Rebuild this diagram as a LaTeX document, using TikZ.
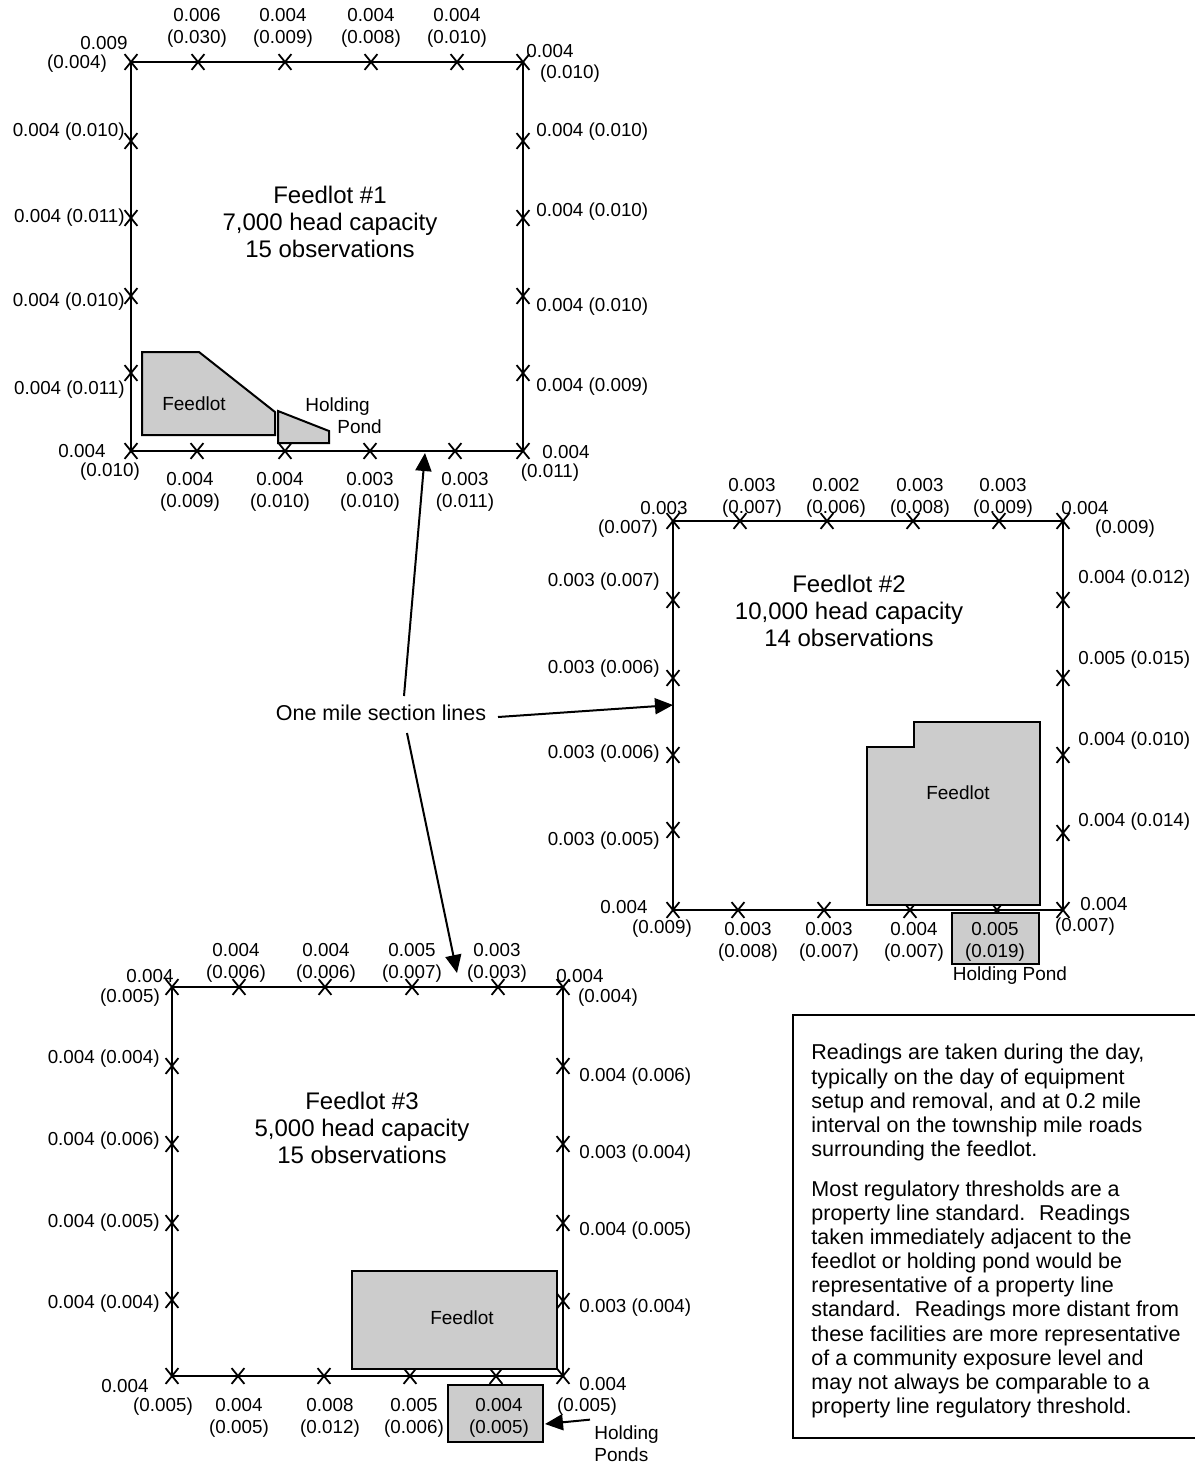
\documentclass[tikz,border=0pt]{standalone}
\usepackage{fontspec}
\setmainfont{Liberation Sans}
\usetikzlibrary{shapes.misc,arrows.meta,calc}
\definecolor{areagray}{RGB}{204,204,204}
\begin{document}
\begin{tikzpicture}[x=0.5pt,y=-0.5pt,
  lbl/.style={font=\fontsize{9.4}{11}\selectfont, inner sep=0pt, align=center, yshift=-1pt},
  mk/.style={cross out, draw, line width=0.9pt, minimum width=5.5pt, minimum height=7pt, inner sep=0pt},
  ttl/.style={font=\fontsize{12}{13.5}\selectfont, align=center, inner sep=0pt},
  small/.style={font=\fontsize{9.5}{11}\selectfont, inner sep=0pt, align=center},
  area/.style={draw, line width=1pt, fill=areagray},
  road/.style={line width=1.1pt},
  arr/.style={line width=1pt, -{Triangle[length=9pt,width=8pt]}},
  para/.style={font=\fontsize{10.75}{12.1}\selectfont, inner sep=0pt, align=left, anchor=north west}]
\useasboundingbox (0,0) rectangle (1195,1464);

% ================= Feedlot 1 =================
\foreach \x [count=\i] in {131,198,285,371,457,523} \node[mk] (f1t\i) at (\x,62) {};
\foreach \x [count=\i] in {131,197,285,370,455,523} \node[mk] (f1b\i) at (\x,451) {};
\foreach \y [count=\i] in {141,218,296,373} \node[mk] (f1l\i) at (131,\y) {};
\foreach \y [count=\i] in {141,218,296,373} \node[mk] (f1r\i) at (523,\y) {};
\draw[road] (f1t1.center) -- (f1t6.center) -- (f1b6.center) -- (f1b1.center) -- cycle;
\draw[area] (142,352) -- (199,352) -- (275,412) -- (275,435) -- (142,435) -- cycle;
\draw[area] (278,411) -- (329,431) -- (329,443) -- (278,443) -- cycle;
\node[small] (f1fl) at (194,404) {Feedlot};
\node[small, align=left, anchor=west] (f1hp) at (305,416) {Holding\\\hspace*{16pt}Pond};
\node[ttl] (f1ttl) at (330,222) {Feedlot \#1\\7,000 head capacity\\15 observations};
\foreach \x/\t [count=\i] in {197/{0.006\\(0.030)},283/{0.004\\(0.009)},371/{0.004\\(0.008)},457/{0.004\\(0.010)}}
  \node[lbl] (f1tl\i) at (\x,26) {\t};
\foreach \x/\t [count=\i] in {190/{0.004\\(0.009)},280/{0.004\\(0.010)},370/{0.003\\(0.010)},465/{0.003\\(0.011)}}
  \node[lbl] (f1bl\i) at (\x,490) {\t};
\foreach \y/\t [count=\i] in {130/{0.004 (0.010)},216/{0.004 (0.011)},300/{0.004 (0.010)},388/{0.004 (0.011)}}
  \node[lbl, anchor=east] (f1ll\i) at (125,\y) {\t};
\foreach \y/\t [count=\i] in {130/{0.004 (0.010)},210/{0.004 (0.010)},305/{0.004 (0.010)},385/{0.004 (0.009)}}
  \node[lbl, anchor=west] (f1rl\i) at (536,\y) {\t};
\node[lbl] (f1c1a) at (104,41) {0.009};
\node[lbl] (f1c1b) at (77,62) {(0.004)};
\node[lbl] (f1c2a) at (550,49) {0.004};
\node[lbl] (f1c2b) at (570,72) {(0.010)};
\node[lbl] (f1c3a) at (82,449) {0.004};
\node[lbl] (f1c3b) at (110,470) {(0.010)};
\node[lbl] (f1c4a) at (566,450) {0.004};
\node[lbl] (f1c4b) at (550,471) {(0.011)};

% ================= Feedlot 2 =================
\foreach \x [count=\i] in {673,740,827,913,999,1063} \node[mk] (f2t\i) at (\x,521) {};
\foreach \x [count=\i] in {673,738,824,910,997,1063} \node[mk] (f2b\i) at (\x,910) {};
\foreach \y [count=\i] in {600,678,755,830} \node[mk] (f2l\i) at (673,\y) {};
\foreach \y [count=\i] in {600,678,755,833} \node[mk] (f2r\i) at (1063,\y) {};
\draw[road] (f2t1.center) -- (f2t6.center) -- (f2b6.center) -- (f2b1.center) -- cycle;
\draw[area] (867,747) -- (914,747) -- (914,722) -- (1040,722) -- (1040,905) -- (867,905) -- cycle;
\draw[area] (952,913) rectangle (1039,964);
\node[small] (f2fl) at (958,793) {Feedlot};
\node[small] (f2hp) at (1010,976) {Holding Pond};
\node[ttl] (f2ttl) at (849,611) {Feedlot \#2\\10,000 head capacity\\14 observations};
\foreach \x/\t [count=\i] in {752/{0.003\\(0.007)},836/{0.002\\(0.006)},920/{0.003\\(0.008)},1003/{0.003\\(0.009)}}
  \node[lbl] (f2tl\i) at (\x,496) {\t};
\foreach \x/\t [count=\i] in {748/{0.003\\(0.008)},829/{0.003\\(0.007)},914/{0.004\\(0.007)},995/{0.005\\(0.019)}}
  \node[lbl] (f2bl\i) at (\x,940) {\t};
\foreach \y/\t [count=\i] in {580/{0.003 (0.007)},667/{0.003 (0.006)},752/{0.003 (0.006)},839/{0.003 (0.005)}}
  \node[lbl, anchor=east] (f2ll\i) at (660,\y) {\t};
\foreach \y/\t [count=\i] in {577/{0.004 (0.012)},658/{0.005 (0.015)},739/{0.004 (0.010)},820/{0.004 (0.014)}}
  \node[lbl, anchor=west] (f2rl\i) at (1078,\y) {\t};
\node[lbl] (f2c1a) at (664,506) {0.003};
\node[lbl] (f2c1b) at (628,527) {(0.007)};
\node[lbl] (f2c2a) at (1085,506) {0.004};
\node[lbl] (f2c2b) at (1125,527) {(0.009)};
\node[lbl] (f2c3a) at (624,905) {0.004};
\node[lbl] (f2c3b) at (662,927) {(0.009)};
\node[lbl] (f2c4a) at (1104,902) {0.004};
\node[lbl] (f2c4b) at (1085,925) {(0.007)};

% ================= Feedlot 3 =================
\foreach \x [count=\i] in {172,239,325,412,498,563} \node[mk] (f3t\i) at (\x,987) {};
\foreach \x [count=\i] in {172,238,324,410,496,563} \node[mk] (f3b\i) at (\x,1376) {};
\foreach \y [count=\i] in {1066,1144,1223,1300} \node[mk] (f3l\i) at (172,\y) {};
\foreach \y [count=\i] in {1066,1144,1223,1301} \node[mk] (f3r\i) at (563,\y) {};
\draw[road] (f3t1.center) -- (f3t6.center) -- (f3b6.center) -- (f3b1.center) -- cycle;
\draw[area] (352,1271) rectangle (557,1369);
\draw[area] (448,1385) rectangle (543,1442);
\node[small] (f3fl) at (462,1318) {Feedlot};
\node[small, align=left, anchor=west] (f3hp) at (594,1444) {Holding\\Ponds};
\node[ttl] (f3ttl) at (362,1128) {Feedlot \#3\\5,000 head capacity\\15 observations};
\foreach \x/\t [count=\i] in {236/{0.004\\(0.006)},326/{0.004\\(0.006)},412/{0.005\\(0.007)},497/{0.003\\(0.003)}}
  \node[lbl] (f3tl\i) at (\x,961) {\t};
\foreach \x/\t [count=\i] in {239/{0.004\\(0.005)},330/{0.008\\(0.012)},414/{0.005\\(0.006)},499/{0.004\\(0.005)}}
  \node[lbl] (f3bl\i) at (\x,1416) {\t};
\foreach \y/\t [count=\i] in {1057/{0.004 (0.004)},1139/{0.004 (0.006)},1221/{0.004 (0.005)},1302/{0.004 (0.004)}}
  \node[lbl, anchor=east] (f3ll\i) at (160,\y) {\t};
\foreach \y/\t [count=\i] in {1075/{0.004 (0.006)},1152/{0.003 (0.004)},1229/{0.004 (0.005)},1306/{0.003 (0.004)}}
  \node[lbl, anchor=west] (f3rl\i) at (579,\y) {\t};
\node[lbl] (f3c1a) at (150,974) {0.004};
\node[lbl] (f3c1b) at (130,996) {(0.005)};
\node[lbl] (f3c2a) at (580,974) {0.004};
\node[lbl] (f3c2b) at (608,996) {(0.004)};
\node[lbl] (f3c3a) at (125,1384) {0.004};
\node[lbl] (f3c3b) at (163,1405) {(0.005)};
\node[lbl] (f3c4a) at (603,1382) {0.004};
\node[lbl] (f3c4b) at (587,1405) {(0.005)};
\coordinate (f3pond) at (545,1424);
\draw[arr] ($(f3hp.north west)+(-4,-6)$) -- (f3pond);

% ================= Section line arrows =================
\node[font=\fontsize{10.75}{12}\selectfont, inner sep=0pt] (oml) at (381,713) {One mile section lines};
\coordinate (s1) at (425,453);
\coordinate (s2) at (673,705);
\coordinate (s3) at (457,973);
\draw[arr] (404,696) -- (s1);
\draw[arr] (498,717) -- (s2);
\draw[arr] (407,733) -- (s3);

% ================= Text box =================
\draw[line width=1pt] (1196,1015) -- (793,1015) -- (793,1438) -- (1196,1438);
\node[para] (p1) at (811,1044) {Readings are taken during the day,\\typically on the day of equipment\\setup and removal, and at 0.2 mile\\interval on the township mile roads\\surrounding the feedlot.};
\node[para] (p2) at (811,1180) {Most regulatory thresholds are a\\property line standard.~ Readings\\taken immediately adjacent to the\\feedlot or holding pond would be\\representative of a property line\\standard.~ Readings more distant from\\these facilities are more representative\\of a community exposure level and\\may not always be comparable to a\\property line regulatory threshold.};
\end{tikzpicture}
\end{document}
